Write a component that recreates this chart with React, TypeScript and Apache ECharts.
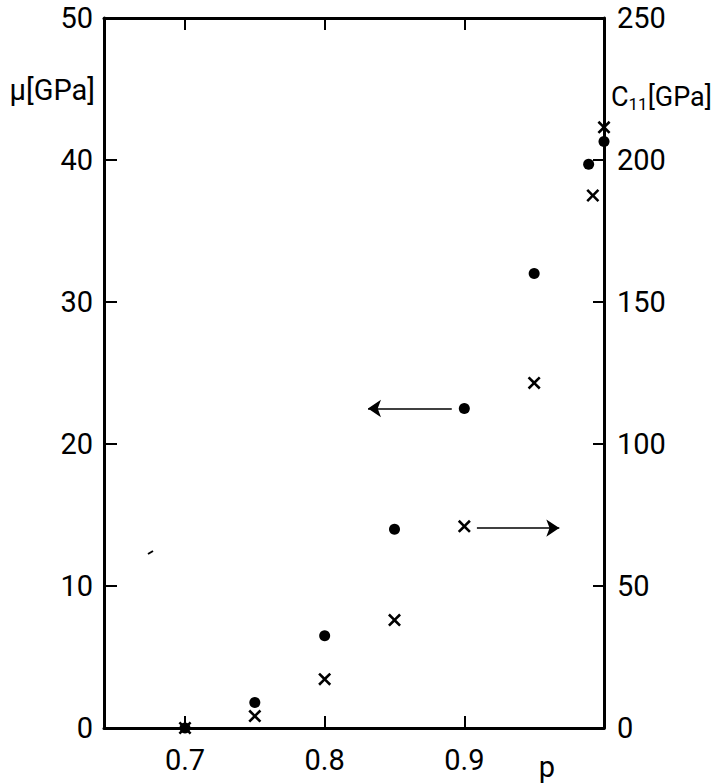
import React, { useEffect, useRef } from 'react';
import * as echarts from 'echarts';

// packing fraction p for the shear modulus points (filled dots, left axis)
const pDots = [0.7, 0.75, 0.8, 0.85, 0.9, 0.95, 0.989, 1.0];
const muValues = [0, 1.8, 6.5, 14.0, 22.5, 32.0, 39.7, 41.3];
// packing fraction p for the C11 points (crosses, right axis)
const pCrosses = [0.7, 0.75, 0.8, 0.85, 0.9, 0.95, 0.992, 1.0];
const c11Values = [0, 4.2, 17.2, 38.0, 71.0, 121.5, 187.5, 211.5];

const xTickValues = [0.7, 0.8, 0.9];
const xMin = 0.642;
const xMax = 1.0;
const muMax = 50;
const muInterval = 10;
const c11Max = 250;
const c11Interval = 50;

// arrows (data coordinates): left arrow on μ axis, right arrow on C11 axis
const leftArrow = { fromP: 0.891, toP: 0.831, value: 22.5 };
const rightArrow = { fromP: 0.909, toP: 0.968, value: 70.4 };

const FONT = 'Roboto, "Noto Sans", sans-serif';
const FS = 29;

const crossPath =
  'path://M0,1.4 L1.4,0 L5,3.6 L8.6,0 L10,1.4 L6.4,5 L10,8.6 L8.6,10 L5,6.4 L1.4,10 L0,8.6 L3.6,5 Z';

export default function App() {
  const ref = useRef<HTMLDivElement>(null);

  useEffect(() => {
    if (!ref.current) return;
    const chart = echarts.init(ref.current, undefined, { renderer: 'svg' });
    const axisLine = { show: true, onZero: false, lineStyle: { color: '#000', width: 3, opacity: 1 } };
    const tick = (len: number) => ({
      show: true,
      inside: true,
      length: len,
      lineStyle: { color: '#000', width: 2, opacity: 1 },
    });
    const labelStyle = { color: '#000', fontSize: FS, fontFamily: FONT };

    chart.setOption({
      animation: false,
      backgroundColor: '#fff',
      grid: { left: 104, right: 113, top: 18, bottom: 55, containLabel: false },
      xAxis: [
        {
          type: 'value',
          min: xMin,
          max: xMax,
          position: 'bottom',
          axisLine,
          axisTick: { ...tick(12), customValues: xTickValues },
          axisLabel: {
            ...labelStyle,
            margin: 17,
            customValues: xTickValues,
            formatter: (v: number) => v.toFixed(1),
          },
          splitLine: { show: false },
        },
        {
          type: 'value',
          min: xMin,
          max: xMax,
          position: 'top',
          axisLine,
          axisTick: { ...tick(12), customValues: xTickValues },
          axisLabel: { show: false },
          splitLine: { show: false },
        },
      ],
      yAxis: [
        {
          type: 'value',
          min: 0,
          max: muMax,
          interval: muInterval,
          position: 'left',
          axisLine,
          axisTick: tick(13),
          axisLabel: { ...labelStyle, margin: 11 },
          splitLine: { show: false },
        },
        {
          type: 'value',
          min: 0,
          max: c11Max,
          interval: c11Interval,
          position: 'right',
          axisLine,
          axisTick: tick(11),
          axisLabel: { ...labelStyle, margin: 13 },
          splitLine: { show: false },
        },
      ],
      series: [
        {
          type: 'scatter',
          xAxisIndex: 0,
          yAxisIndex: 0,
          symbol: 'circle',
          symbolSize: 11,
          itemStyle: { color: '#000', opacity: 1 },
          silent: true,
          data: pDots.map((p, i) => [p, muValues[i]]),
          markLine: {
            silent: true,
            symbol: ['none', 'arrow'],
            symbolSize: 13,
            label: { show: false },
            lineStyle: { color: '#000', width: 1.6, type: 'solid', opacity: 1 },
            data: [
              [
                { coord: [leftArrow.fromP, leftArrow.value] },
                { coord: [leftArrow.toP, leftArrow.value] },
              ],
            ],
          },
        },
        {
          type: 'scatter',
          xAxisIndex: 0,
          yAxisIndex: 1,
          symbol: crossPath,
          symbolSize: 13,
          itemStyle: { color: '#000', opacity: 1 },
          silent: true,
          data: pCrosses.map((p, i) => [p, c11Values[i]]),
          markLine: {
            silent: true,
            symbol: ['none', 'arrow'],
            symbolSize: 13,
            label: { show: false },
            lineStyle: { color: '#000', width: 1.6, type: 'solid', opacity: 1 },
            data: [
              [
                { coord: [rightArrow.fromP, rightArrow.value] },
                { coord: [rightArrow.toP, rightArrow.value] },
              ],
            ],
          },
        },
      ],
      graphic: [
        {
          type: 'text',
          x: 95,
          y: 90,
          style: {
            text: 'μ[GPa]',
            align: 'right',
            verticalAlign: 'middle',
            fontSize: FS,
            fontFamily: FONT,
            fill: '#000',
          },
        },
        {
          type: 'text',
          x: 611,
          y: 97,
          style: {
            text: '{a|C}{s|11}{a|[GPa]}',
            align: 'left',
            verticalAlign: 'middle',
            fontSize: 27,
            fontFamily: FONT,
            fill: '#000',
            rich: {
              a: { fontSize: 27, fontFamily: FONT, fill: '#000' },
              s: {
                fontSize: 17,
                fontFamily: FONT,
                fill: '#000',
                padding: [13, 0, 0, 0],
              },
            },
          },
        },
        {
          type: 'text',
          x: 547,
          y: 767,
          style: {
            text: 'p',
            align: 'center',
            verticalAlign: 'middle',
            fontSize: FS,
            fontFamily: FONT,
            fill: '#000',
          },
        },
        {
          type: 'line',
          shape: { x1: 148, y1: 554, x2: 153, y2: 551 },
          style: { stroke: '#000', lineWidth: 2 },
        },
      ],
    });
    return () => chart.dispose();
  }, []);

  return (
    <div
      ref={ref}
      style={{ position: 'fixed', left: 0, top: 0, width: 717, height: 783, background: '#fff' }}
    />
  );
}
